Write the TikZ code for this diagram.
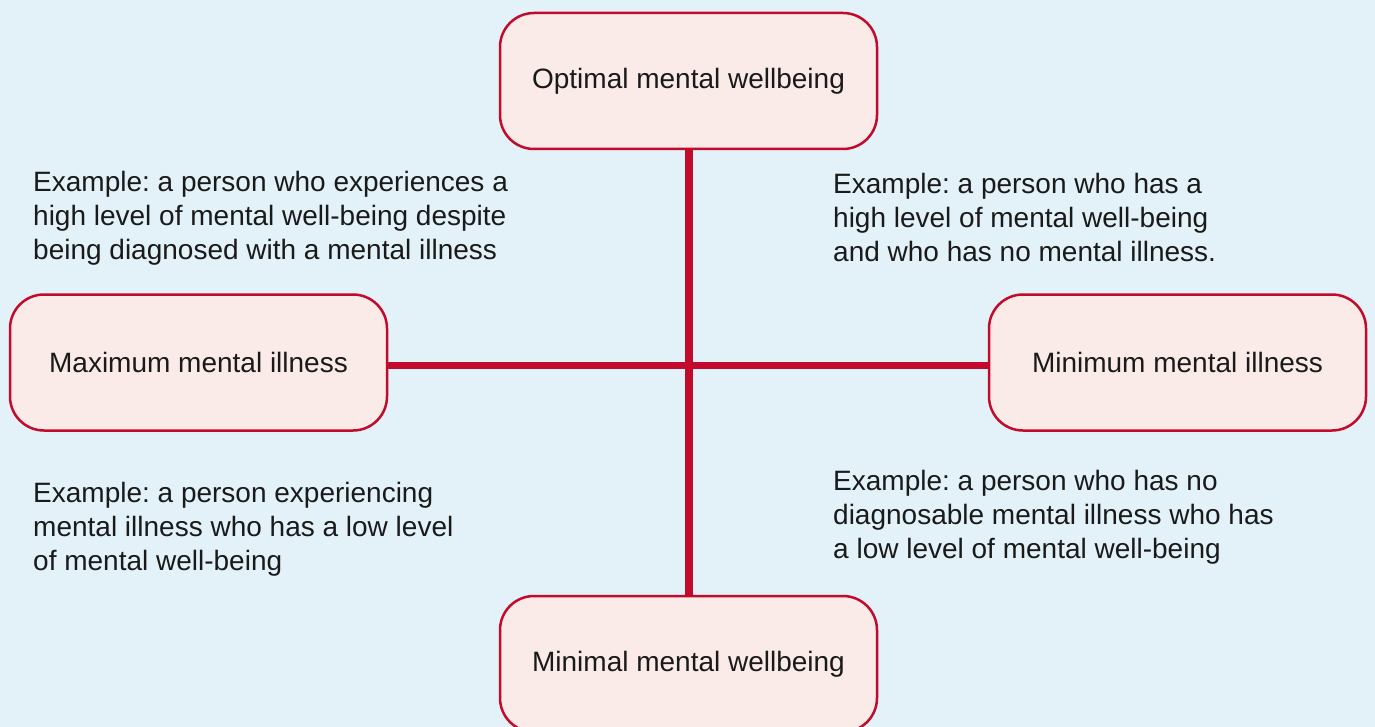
\documentclass[tikz,border=0pt]{standalone}
\usepackage{fontspec}
\setmainfont{Liberation Sans}
\frenchspacing
\definecolor{bg}{HTML}{E3F2F8}
\definecolor{boxfill}{HTML}{FAEBE8}
\definecolor{accent}{HTML}{C20A2D}
\definecolor{txt}{HTML}{1A1A1A}
\begin{document}
\begin{tikzpicture}[x=1pt,y=-1pt,
  pole/.style={draw=accent, line width=2.5pt, fill=boxfill, rounded corners=34pt,
    minimum width=377pt, minimum height=136pt, inner sep=0pt, text=txt,
    font=\fontsize{28}{32}\selectfont},
  example/.style={anchor=north west, inner sep=0pt, align=left, text=txt,
    font=\fontsize{28}{34}\selectfont},
  axis/.style={draw=accent, line width=7.5pt}]
\fill[bg] (0,0) rectangle (1375,727);
\useasboundingbox (0,0) rectangle (1375,727);
\begin{scope}
\clip (0,0) rectangle (1375,727);
\node[pole] (top) at (688.5,81) {\frenchspacing Optimal mental wellbeing};
\node[pole] (left) at (198.5,362.5) {Maximum mental illness};
\node[pole] (right) at (1177.5,362.5) {Minimum mental illness};
\node[pole] (bottom) at (688.5,664) {Minimal mental wellbeing};
\coordinate (c) at (689,365.5);
\draw[axis] (top.south -| c) -- (bottom.north -| c);
\draw[axis] (left.east |- c) -- (right.west |- c);
\end{scope}
\node[example] (ul) at (33,171) {\frenchspacing Example: a person who experiences a\\high level of mental well-being despite\\being diagnosed with a mental illness};
\node[example] (ur) at (833,173) {\frenchspacing Example: a person who has a\\high level of mental well-being\\and who has no mental illness.};
\node[example] (ll) at (33,482) {\frenchspacing Example: a person experiencing\\mental illness who has a low level\\of mental well-being};
\node[example] (lr) at (833,470) {\frenchspacing Example: a person who has no\\diagnosable mental illness who has\\a low level of mental well-being};
\end{tikzpicture}
\end{document}
